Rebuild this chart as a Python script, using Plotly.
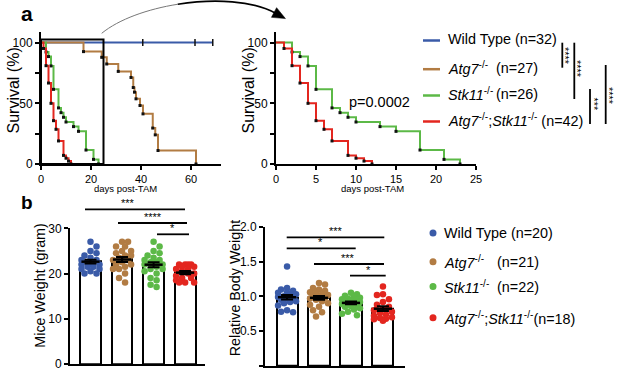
import numpy as np
import plotly.graph_objects as go

W, H = 617, 372
FONT = "Liberation Sans, Arial, Helvetica, sans-serif"

# ---------------- data ----------------
group_colors = ["#3A5BA8", "#B27C43", "#5CB947", "#E3261F"]

# Kaplan-Meier curves (day of event, survival % after event)
wt_days = [0, 68.7]
wt_surv = [100, 100]
wt_censor_days = [40.7, 61.6, 68.7]
atg7_days = [0, 17, 24.3, 26.3, 30.9, 36, 36.9, 37.4, 38, 39.6, 40.8, 44.7, 45.7, 46.8, 62]
atg7_surv = [100, 92.6, 87.9, 82.4, 76.3, 71.3, 63.0, 59.2, 53.7, 48.2, 41.3, 29.6, 24.0, 11.1, 0]
stk11_days = [0, 2, 3, 4, 5, 7, 8, 9, 10, 13, 15, 18, 21, 23]
stk11_surv = [100, 92.3, 88.5, 80.8, 61.5, 46.2, 42.3, 38.5, 34.6, 30.8, 26.9, 11.5, 3.8, 0]
dko_days = [0, 1, 2, 3, 4, 5, 6, 7, 9, 10, 11, 12]
dko_surv = [100, 95.2, 81.0, 66.7, 50.0, 35.7, 28.6, 19.0, 7.1, 4.8, 2.4, 0]

# Mice weight (gram)
weight_wt = [27, 26, 25, 24.5, 24, 23.5, 23, 23, 22.5, 22.5, 22, 22, 22, 21.5, 21.5, 21, 21, 20.5, 20, 20]
weight_atg7 = [27, 27, 26, 26, 25, 25, 24.5, 24, 24, 23.5, 23, 23, 22.5, 22, 22, 21.5, 21, 21, 20, 19, 18]
weight_stk11 = [27, 26, 25, 24.5, 24, 23.5, 23, 23, 22.5, 22.5, 22, 22, 22, 21.5, 21, 21, 20.5, 20, 19, 18.5, 17.5, 17]
weight_dko = [22, 22, 22, 22, 21.5, 21.5, 21, 21, 20.5, 20, 20, 19.5, 19, 19, 18.5, 18, 18, 18]

# Relative body weight
rel_wt = [1.43, 1.12, 1.1, 1.08, 1.06, 1.05, 1.03, 1.02, 1.0, 0.99, 0.98, 0.97, 0.95, 0.93, 0.92, 0.9, 0.87, 0.8, 0.78, 0.77]
rel_atg7 = [1.19, 1.17, 1.12, 1.1, 1.08, 1.06, 1.05, 1.03, 1.02, 1.0, 0.99, 0.98, 0.97, 0.95, 0.93, 0.9, 0.88, 0.85, 0.8, 0.77, 0.71]
rel_stk11 = [1.05, 1.03, 1.01, 1.0, 0.98, 0.97, 0.96, 0.95, 0.94, 0.93, 0.92, 0.91, 0.9, 0.89, 0.88, 0.86, 0.85, 0.83, 0.81, 0.78, 0.75, 0.73]
rel_dko = [1.14, 1.03, 1.02, 0.96, 0.92, 0.88, 0.85, 0.82, 0.8, 0.78, 0.76, 0.74, 0.72, 0.7, 0.69, 0.68, 0.67, 0.65]

surv_legend = ["Wild Type", "<i>Atg7</i><sup>-/-</sup>", "<i>Stk11</i><sup>-/-</sup>",
               "<i>Atg7</i><sup>-/-</sup>;<i>Stk11</i><sup>-/-</sup>\u00a0(n=42)"]
surv_n_text = ["(n=32)", "(n=27)", "(n=26)", ""]
bar_legend = ["Wild Type (n=20)", "<i>Atg7</i><sup>-/-</sup>", "<i>Stk11</i><sup>-/-</sup>",
              "<i>Atg7</i><sup>-/-</sup>;<i>Stk11</i><sup>-/-</sup>(n=18)"]
bar_n_text = ["", "(n=21)", "(n=22)", ""]
p_value_text = "p=0.0002"


# ---------------- helpers ----------------
def X(p):
    return p / W


def Y(p):
    return 1 - p / H


def swarm(vals, ppu_y, ppu_x, diam=6.0, maxoff=10.5):
    vals = np.asarray(vals, float)
    order = np.argsort(-vals)
    step = diam * 0.5
    cand = [0.0]
    k = 1
    while k * step <= maxoff:
        cand += [-k * step, k * step]
        k += 1
    placed = []
    offs = np.zeros(len(vals))
    for j, i in enumerate(order):
        yv = vals[i] * ppu_y
        cands = cand if j % 2 == 0 else [-c for c in cand]
        best, bestd, bestc = None, -1, 0.0
        for c in cands:
            d = min([np.hypot(c - a, yv - b) for a, b in placed] or [1e9])
            if d >= diam:
                best = c
                break
            if d > bestd:
                bestd, bestc = d, c
        if best is None:
            best = bestc
        placed.append((best, yv))
        offs[i] = best / ppu_x
    return offs


def split_bezier(p, t):
    p0, p1, p2, p3 = [np.array(q, float) for q in p]
    a = p0 + (p1 - p0) * t
    b = p1 + (p2 - p1) * t
    c = p2 + (p3 - p2) * t
    d = a + (b - a) * t
    e = b + (c - b) * t
    f = d + (e - d) * t
    return (p0, a, d, f), (f, e, c, p3)


def bez_path(seg):
    pts = [(X(q[0]), Y(q[1])) for q in seg]
    return "M {:.5f},{:.5f} C {:.5f},{:.5f} {:.5f},{:.5f} {:.5f},{:.5f}".format(
        pts[0][0], pts[0][1], pts[1][0], pts[1][1], pts[2][0], pts[2][1], pts[3][0], pts[3][1])


fig = go.Figure()

# ---------------- panel a: survival ----------------
curves = [(wt_days, wt_surv, 0), (atg7_days, atg7_surv, 1), (stk11_days, stk11_surv, 2), (dko_days, dko_surv, 3)]
for xa, ya, show in [("x", "y", [0, 1, 2, 3]), ("x2", "y2", [2, 3])]:
    for d, s, gi in curves:
        if gi not in show:
            continue
        fig.add_trace(go.Scatter(x=d, y=s, mode="lines", line=dict(color=group_colors[gi], width=2, shape="hv"),
                                 xaxis=xa, yaxis=ya, cliponaxis=False, hoverinfo="skip"))
        if gi > 0:
            fig.add_trace(go.Scatter(x=d[1:], y=s[1:], mode="markers",
                                     marker=dict(symbol="square", size=3, color="#111"),
                                     xaxis=xa, yaxis=ya, cliponaxis=False, hoverinfo="skip"))
    if xa == "x":
        fig.add_trace(go.Scatter(x=wt_censor_days, y=[100] * len(wt_censor_days), mode="markers",
                                 marker=dict(symbol="line-ns", size=5, line=dict(width=1.5, color="#111")),
                                 xaxis=xa, yaxis=ya, cliponaxis=False, hoverinfo="skip"))

# ---------------- panel b: bars ----------------
bar_sets = [("x3", "y3", [weight_wt, weight_atg7, weight_stk11, weight_dko], 4.523, 31.5),
            ("x4", "y4", [rel_wt, rel_atg7, rel_stk11, rel_dko], 69.65, 32.0)]
for xa, ya, sets, ppu_y, ppu_x in bar_sets:
    means = [float(np.mean(v)) for v in sets]
    sems = [float(np.std(v, ddof=1) / np.sqrt(len(v))) for v in sets]
    fig.add_trace(go.Bar(x=[0, 1, 2, 3], y=means, width=0.66,
                         marker=dict(color="white", line=dict(color="black", width=2)),
                         xaxis=xa, yaxis=ya, hoverinfo="skip"))
    for gi, v in enumerate(sets):
        offs = swarm(v, ppu_y, ppu_x)
        fig.add_trace(go.Scatter(x=gi + offs, y=v, mode="markers",
                                 marker=dict(size=6.5, color=group_colors[gi]),
                                 xaxis=xa, yaxis=ya, cliponaxis=False, hoverinfo="skip"))
    fig.add_trace(go.Scatter(x=[0, 1, 2, 3], y=means, mode="markers",
                             marker=dict(symbol="line-ew", size=13, line=dict(width=2.5, color="black")),
                             error_y=dict(type="data", array=sems, color="black", thickness=2, width=6),
                             xaxis=xa, yaxis=ya, cliponaxis=False, hoverinfo="skip"))

# ---------------- axes ----------------
ax = dict(showline=True, linecolor="black", linewidth=2, ticks="outside", ticklen=4, tickwidth=2,
          tickcolor="black", showgrid=False, zeroline=False, fixedrange=True, automargin=False,
          tickfont=dict(family=FONT, size=12, color="black"))
xt = dict(ax, tickfont=dict(family=FONT, size=11, color="black"))
ya_surv = dict(ax, range=[0, 109], tickvals=[0, 50, 100],
               minor=dict(tickvals=[25, 75], ticks="outside", ticklen=4, tickwidth=2, tickcolor="black"),
               domain=[Y(164), Y(31.7)])
fig.update_layout(
    xaxis=dict(xt, domain=[X(41), X(221)], range=[0, 72], tickvals=[0, 20, 40, 60], anchor="y"),
    yaxis=dict(ya_surv, anchor="x"),
    xaxis2=dict(xt, domain=[X(276), X(476)], range=[0, 25], tickvals=[0, 5, 10, 15, 20, 25], anchor="y2"),
    yaxis2=dict(ya_surv, anchor="x2"),
    xaxis3=dict(ax, domain=[X(70), X(205)], range=[-0.65, 3.63], ticks="", showticklabels=False, anchor="y3"),
    yaxis3=dict(ax, domain=[Y(364), Y(228.3)], range=[0, 30], tickvals=[0, 10, 20, 30], anchor="x3"),
    xaxis4=dict(ax, domain=[X(265), X(405)], range=[-0.69, 3.69], ticks="", showticklabels=False, anchor="y4"),
    yaxis4=dict(ax, domain=[Y(366), Y(226.7)], range=[0, 2], tickvals=[0, 0.5, 1, 1.5, 2],
                ticktext=["0.0", "0.5", "1.0", "1.5", "2.0"], anchor="x4"),
)

shapes = []
annots = []


def txt(s, x, y, size, xanchor="center", yanchor="middle", angle=0, bold=False):
    annots.append(dict(text=("<b>%s</b>" % s) if bold else s, x=X(x), y=Y(y), xref="paper", yref="paper",
                       xanchor=xanchor, yanchor=yanchor, showarrow=False, textangle=angle, borderpad=0,
                       font=dict(family=FONT, size=size, color="black")))


def hline(x0, x1, y, w=1.8, color="black"):
    shapes.append(dict(type="line", xref="paper", yref="paper", x0=X(x0), x1=X(x1), y0=Y(y), y1=Y(y),
                       line=dict(color=color, width=w)))


def vline(x, y0, y1, w=1.8):
    shapes.append(dict(type="line", xref="paper", yref="paper", x0=X(x), x1=X(x), y0=Y(y0), y1=Y(y1),
                       line=dict(color="black", width=w)))


# zoom box on left survival plot
shapes.append(dict(type="rect", xref="x", yref="y", x0=0, x1=25, y0=0, y1=102.5,
                   line=dict(color="black", width=2)))

# curved arrow
bez = [(101.7, 33.3), (140, 2), (235, -10), (276, 13.5)]
s1, s2 = split_bezier(bez, 0.45)
shapes.append(dict(type="path", xref="paper", yref="paper", path=bez_path(s1), line=dict(color="#777", width=1)))
shapes.append(dict(type="path", xref="paper", yref="paper", path=bez_path(s2), line=dict(color="black", width=1.6)))
dirv = np.array([44.0, 23.5]) / np.hypot(44.0, 23.5)
base = np.array([274.0, 12.5])
tip = base + 13 * dirv
perp = np.array([-dirv[1], dirv[0]]) * 5.5
b1, b2 = base + perp, base - perp
shapes.append(dict(type="path", xref="paper", yref="paper",
                   path="M {},{} L {},{} L {},{} Z".format(X(tip[0]), Y(tip[1]), X(b1[0]), Y(b1[1]), X(b2[0]), Y(b2[1])),
                   fillcolor="black", line=dict(color="black", width=0.5)))

# panel labels
txt("a", 27, 14, 21, bold=True)
txt("b", 27, 203, 19, bold=True)

# axis titles
txt("Survival (%)", 12.5, 91, 16, angle=-90)
txt("Survival (%)", 247.5, 91, 16, angle=-90)
txt("days post-TAM", 125.6, 188.5, 9.5)
txt("days post-TAM", 372.5, 188.5, 9.5)
txt("Mice Weight (gram)", 40, 285.7, 14.3, angle=-90)
txt("Relative Body Weight", 235, 288.3, 14.3, angle=-90)
txt(p_value_text, 348, 101.7, 14.5, xanchor="left")

# survival legend
leg_rows = [39, 67.7, 94, 120]
for gi in range(4):
    hline(423, 440, leg_rows[gi] + 1.5, w=2.5, color=group_colors[gi])
    txt(surv_legend[gi] if gi > 0 else surv_legend[gi] + " " + surv_n_text[gi], 447, leg_rows[gi], 14.4, xanchor="left")
    if gi in (1, 2):
        txt(surv_n_text[gi], 495, leg_rows[gi], 14.4, xanchor="left")

# survival significance
vline(562.3, 42.7, 67.7)
vline(574.3, 42.7, 99)
vline(590, 89, 124)
vline(605.7, 65, 124)
txt("****", 565, 56, 11, angle=90)
txt("****", 577, 69, 11, angle=90)
txt("***", 593, 104.5, 11, angle=90)
txt("****", 609, 96, 11, angle=90)

# bar legend
bl_rows = [233, 261.7, 286.5, 317.7]
for gi in range(4):
    shapes.append(dict(type="circle", xref="paper", yref="paper", x0=X(429.5), x1=X(436.5),
                       y0=Y(bl_rows[gi] + 3.5), y1=Y(bl_rows[gi] - 3.5),
                       fillcolor=group_colors[gi], line=dict(width=0)))
    txt(bar_legend[gi], 443, bl_rows[gi], 14.4, xanchor="left")
    if bar_n_text[gi]:
        txt(bar_n_text[gi], 496, bl_rows[gi], 14.4, xanchor="left")

# bar significance
for x0, x1, y, s, xs in [(85, 185, 209.3, "***", 128), (118, 187, 223, "****", 153), (157, 189, 234.3, "*", 172),
                         (286.7, 384.3, 237.3, "***", 336), (286.7, 355.7, 248.3, "*", 320),
                         (314, 384, 264, "***", 348), (350, 385.7, 275.7, "*", 368)]:
    hline(x0, x1, y)
    txt(s, xs, y + 1, 11, yanchor="bottom")

fig.update_layout(width=W, height=H, margin=dict(l=0, r=0, t=0, b=0, autoexpand=False), showlegend=False,
                  paper_bgcolor="white", plot_bgcolor="white", bargap=0,
                  shapes=shapes, annotations=annots, font=dict(family=FONT, color="black"))
fig.write_html("out.html", config={"displayModeBar": False},
               post_script="document.body.style.margin='0';document.body.style.padding='0';"
                           "document.body.style.overflow='hidden';")
